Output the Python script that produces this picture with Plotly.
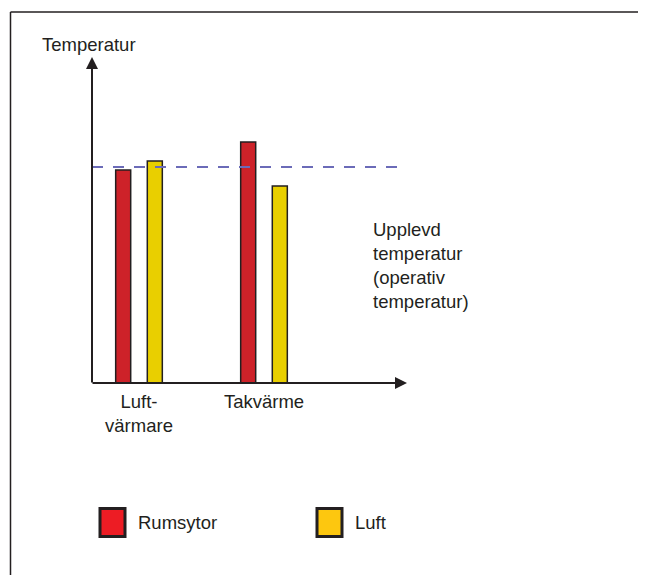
import plotly.graph_objects as go

# ---- data ----
categories = ["Luft-<br>värmare", "Takvärme"]
series_names = ["Rumsytor", "Luft"]
rumsytor = [21.3, 24.1]
luft = [22.2, 19.7]
operativ = 21.6
y_title = "Temperatur"
operativ_label = "Upplevd<br>temperatur<br>(operativ<br>temperatur)"

bar_colors = ["#cd2229", "#e9cf00"]
legend_colors = ["#ed1c24", "#fdc70f"]
ink = "#231f20"
FONT = "Liberation Sans, Arial, Helvetica, sans-serif"
FS = 18.5

W, H = 646, 575
OFF = 8  # page body margin in the browser
# plot area in reference (window) pixel coordinates
PL, PR, PT, PB = 92, 407, 57, 383
L, T = PL - OFF, PT - OFF
R, B = W - (PR - OFF), H - (PB - OFF)
pw, ph = PR - PL, PB - PT


def px(x):
    return (x - PL) / pw


def py(y):
    return (PB - y) / ph


xpos = list(range(len(categories)))
fig = go.Figure()
for name, vals, col in zip(series_names, [rumsytor, luft], bar_colors):
    fig.add_trace(go.Bar(x=xpos, y=vals, name=name, marker=dict(color=col, line=dict(color=ink, width=1.5)),
                         showlegend=False, hoverinfo="skip"))

shapes = []
# outer frame (left and top edges)
shapes.append(dict(type="line", xref="paper", yref="paper", x0=px(10.5), x1=px(10.5), y0=py(12), y1=py(H + 20),
                   line=dict(color=ink, width=1.5)))
shapes.append(dict(type="line", xref="paper", yref="paper", x0=px(10.5), x1=px(W + 20), y0=py(12), y1=py(12),
                   line=dict(color=ink, width=1.5)))
# operative temperature dashed line
shapes.append(dict(type="line", xref="paper", yref="y", x0=0, x1=px(400), y0=operativ, y1=operativ,
                   line=dict(color="#6b6bb8", width=2, dash="11px,10px")))

annotations = []
# legend swatches and labels
leg_x = [100, 317]
for i, (name, col) in enumerate(zip(series_names, legend_colors)):
    x0 = leg_x[i]
    shapes.append(dict(type="rect", xref="paper", yref="paper", x0=px(x0), x1=px(x0 + 25),
                       y0=py(508.5), y1=py(536.5), fillcolor=col, line=dict(color=ink, width=3)))
    annotations.append(dict(xref="paper", yref="paper", x=px(x0 + 36), y=py(522), text=name, showarrow=False,
                            xanchor="left", yanchor="middle", font=dict(size=FS, color=ink, family=FONT)))

# axes with arrows
annotations.append(dict(xref="paper", yref="paper", x=0, y=1, ax=0, ay=ph + 1, axref="pixel", ayref="pixel",
                        text="", showarrow=True, arrowhead=2, arrowsize=1.2, arrowwidth=2, arrowcolor=ink))
annotations.append(dict(xref="paper", yref="paper", x=1, y=0, ax=-pw - 1, ay=0, axref="pixel", ayref="pixel",
                        text="", showarrow=True, arrowhead=2, arrowsize=1.2, arrowwidth=2, arrowcolor=ink))
annotations.append(dict(xref="paper", yref="paper", x=px(89), y=py(44), text=y_title, showarrow=False,
                        xanchor="center", yanchor="middle", font=dict(size=FS, color=ink, family=FONT)))
annotations.append(dict(xref="paper", yref="paper", x=px(371), y=py(265), text=operativ_label, showarrow=False,
                        xanchor="left", yanchor="middle", align="left",
                        font=dict(size=FS, color=ink, family=FONT)))

fig.update_layout(
    width=W, height=H,
    margin=dict(l=L, r=R, t=T, b=B, pad=0),
    paper_bgcolor="white", plot_bgcolor="white",
    barmode="group", bargap=0.494, bargroupgap=0.525,
    shapes=shapes, annotations=annotations,
    showlegend=False,
    font=dict(family=FONT, size=FS, color=ink),
)
fig.update_xaxes(range=[(PL - (PL + 47)) / 125, (PR - (PL + 47)) / 125], tickvals=xpos, ticktext=categories,
                 showgrid=False, zeroline=False, showline=False, ticks="", ticklabelstandoff=5,
                 tickfont=dict(size=FS, color=ink, family=FONT), fixedrange=True)
fig.update_yaxes(range=[0, ph / 10], showgrid=False, zeroline=False, showline=False, showticklabels=False,
                 ticks="", fixedrange=True)

fig.write_html("out.html", config={"displayModeBar": False})
